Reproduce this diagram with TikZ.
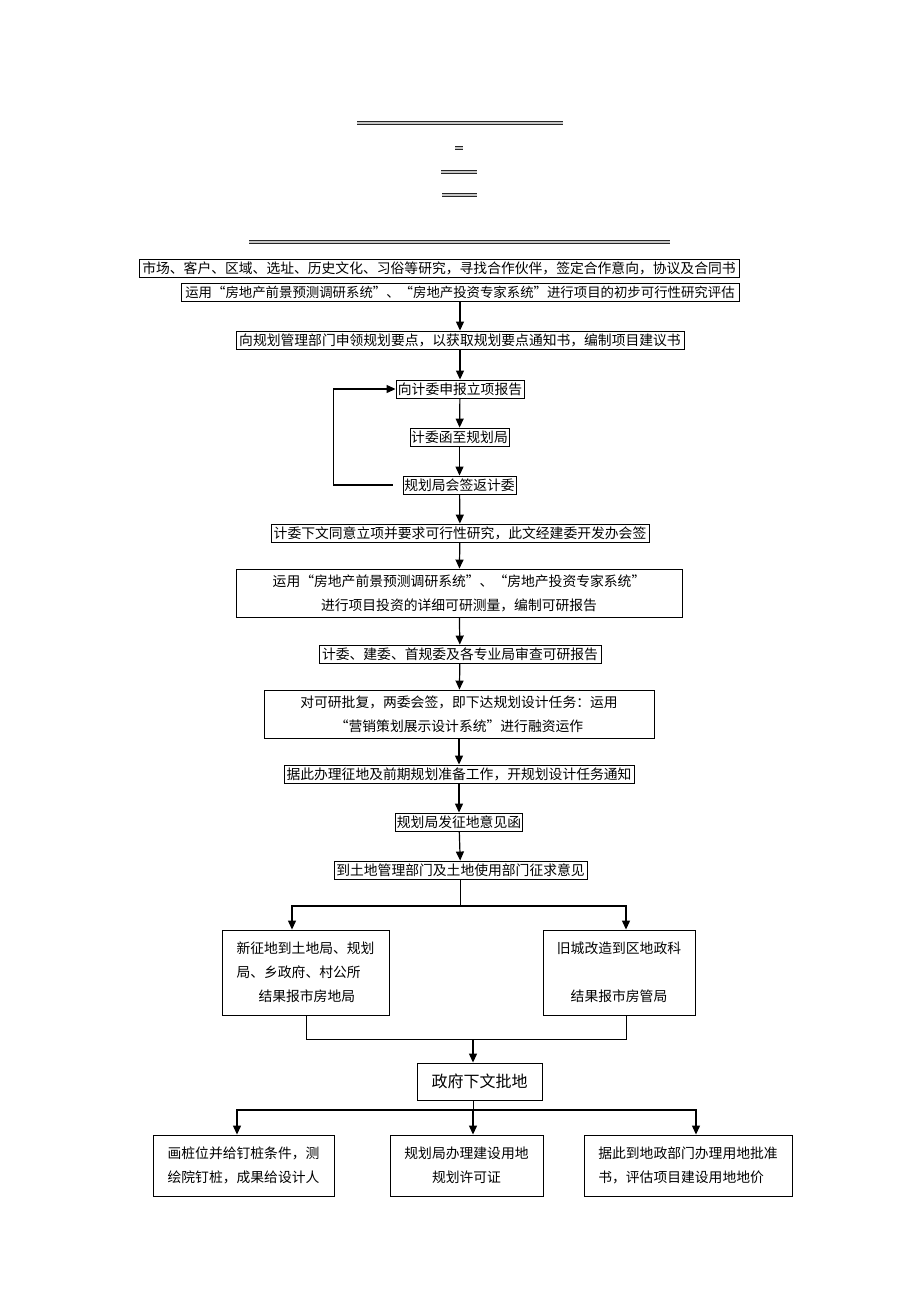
\documentclass[tikz,border=0pt]{standalone}
\usepackage{fontspec}
\setmainfont{Noto Sans CJK SC}
\usetikzlibrary{arrows.meta}

\tikzset{
  box/.style={draw, line width=0.9pt, inner xsep=1pt, inner ysep=1pt,
    minimum height=18pt, font=\fontsize{13.8pt}{24pt}\selectfont},
  arr/.style={-{Triangle[length=9pt,width=8pt]}, line width=1.2pt},
  link/.style={line width=1pt},
  bar/.style={draw=black!85, double=gray!45, double distance=1.6pt, line width=0.8pt}
}

\begin{document}
\begin{tikzpicture}[x=1pt, y=-1pt]
  \useasboundingbox (0,0) rectangle (920,1302);

  % Title lines
  \draw[bar] (357,123) -- (563,123);
  \draw[bar] (455,148) -- (463,148);
  \draw[bar] (441,172) -- (477,172);
  \draw[bar] (442,195) -- (477,195);
  \draw[bar] (249,242) -- (670,242);

  % Define nodes
  \node[box, minimum width=600pt] (study) at (439,268) {市场、客户、区域、选址、历史文化、习俗等研究，寻找合作伙伴，签定合作意向，协议及合同书};
  \node[box, minimum width=558pt, font=\fontsize{13.4pt}{24pt}\selectfont] (eval) at (460,292) {运用“房地产前景预测调研系统”、“房地产投资专家系统”进行项目的初步可行性研究评估};
  \node[box, minimum width=448pt] (points) at (460,340) {向规划管理部门申领规划要点，以获取规划要点通知书，编制项目建议书};
  \node[box, minimum width=128pt] (apply) at (460,389) {向计委申报立项报告};
  \node[box, minimum width=99pt] (letter) at (459.5,437) {计委函至规划局};
  \node[box, minimum width=113pt] (sign) at (459.5,485) {规划局会签返计委};
  \node[box, minimum width=378pt] (approve) at (460,533) {计委下文同意立项并要求可行性研究，此文经建委开发办会签};
  \node[box, minimum width=446pt, minimum height=48pt, align=center] (detail) at (459,593) {运用“房地产前景预测调研系统”、“房地产投资专家系统”\\进行项目投资的详细可研测量，编制可研报告};
  \node[box, minimum width=282pt] (review) at (460,654) {计委、建委、首规委及各专业局审查可研报告};
  \node[box, minimum width=390pt, minimum height=48pt, align=center] (reply) at (459,714) {对可研批复，两委会签，即下达规划设计任务：运用\\“营销策划展示设计系统”进行融资运作};
  \node[box, minimum width=350pt] (prepare) at (459,774) {据此办理征地及前期规划准备工作，开规划设计任务通知};
  \node[box, minimum width=126pt] (opinion) at (459,822) {规划局发征地意见函};
  \node[box, minimum width=253pt] (consult) at (460.5,870) {到土地管理部门及土地使用部门征求意见};
  \node[box, minimum width=167pt, minimum height=85pt, align=left] (newland) at (305.5,972.5) {新征地到土地局、规划\\局、乡政府、村公所\\\hspace*{22pt}结果报市房地局};
  \node[box, minimum width=152pt, minimum height=85pt, align=center] (oldcity) at (619,972.5) {旧城改造到区地政科\\[24pt]结果报市房管局};
  \node[box, minimum width=125pt, minimum height=37pt, font=\fontsize{16pt}{20pt}\selectfont] (gov) at (479.5,1081.5) {政府下文批地};
  \node[box, minimum width=181pt, minimum height=61pt, align=left] (stake) at (243.5,1165.5) {画桩位并给钉桩条件，测\\绘院钉桩，成果给设计人};
  \node[box, minimum width=153pt, minimum height=61pt, align=center] (permit) at (466.5,1165.5) {规划局办理建设用地\\规划许可证};
  \node[box, minimum width=208pt, minimum height=61pt, align=left] (price) at (688,1165.5) {据此到地政部门办理用地批准\\书，评估项目建设用地地价};

  \coordinate (fork1) at (460,906);
  \coordinate (joinL) at (306,1039);
  \coordinate (joinR) at (626,1039);
  \coordinate (join) at (473,1039);
  \coordinate (fork2) at (473,1110);

  % Connect the nodes
  \draw[arr] (eval) -- (points);
  \draw[arr] (points) -- (apply);
  \draw[arr] (apply) -- (letter);
  \draw[arr] (letter) -- (sign);
  \draw[arr] (sign) -- (approve);
  \draw[arr] (approve) -- (detail);
  \draw[arr] (detail) -- (review);
  \draw[arr] (review) -- (reply);
  \draw[arr] (reply) -- (prepare);
  \draw[arr] (prepare) -- (opinion);
  \draw[arr] (opinion) -- (consult);
  \draw[arr] ([xshift=-10pt]sign.west) -- ++(-59,0) |- (apply.west);

  \draw[link] (consult.south -| fork1) -- (fork1);
  \draw[arr] (fork1) -| ([xshift=-13.5pt]newland.north);
  \draw[arr] (fork1) -| ([xshift=7pt]oldcity.north);
  \draw[link] (newland.south -| joinL) -- (joinL) -- (joinR) -- (oldcity.south -| joinR);
  \draw[arr] (join) -- (gov.north -| join);

  \draw[link] (gov.south -| fork2) -- (fork2);
  \draw[arr] (fork2) -| ([xshift=-6.5pt]stake.north);
  \draw[arr] (fork2) -- (permit.north -| fork2);
  \draw[arr] (fork2) -| ([xshift=8pt]price.north);
\end{tikzpicture}
\end{document}
